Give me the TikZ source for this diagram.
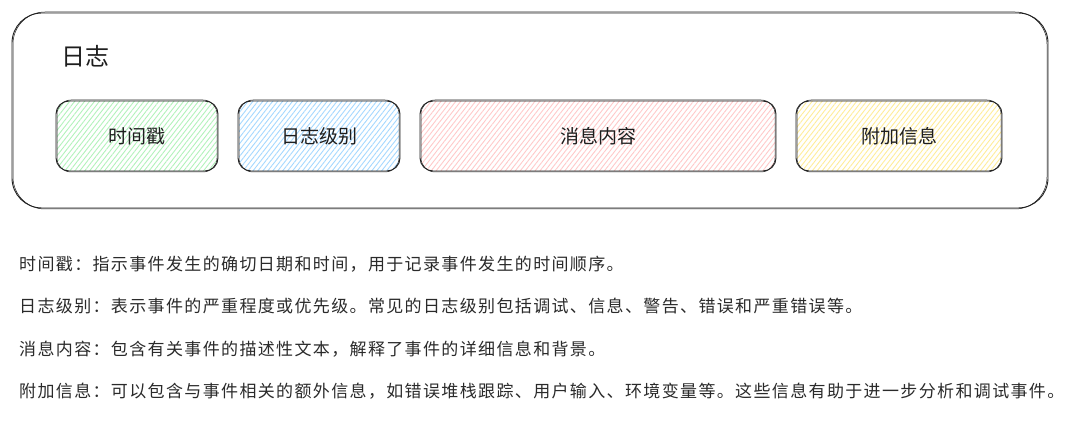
\documentclass[tikz,border=0pt]{standalone}
\usepackage{fontspec}
\setmainfont{Noto Sans CJK SC}
\newfontfamily\cjk{Noto Sans CJK SC}
\newfontfamily\cjkbody[LetterSpace=8]{Noto Sans CJK SC}
\usetikzlibrary{patterns.meta}
\definecolor{ink}{HTML}{1E1E1E}
\definecolor{txt}{HTML}{2A2A2A}
\definecolor{hgreen}{HTML}{B2F2BB}
\definecolor{hblue}{HTML}{A5D8FF}
\definecolor{hred}{HTML}{FFC9C9}
\definecolor{hyellow}{HTML}{FFEC99}
\tikzset{
  sketch/.style={draw=ink, line width=0.9pt, rounded corners=#1},
  sketch2/.style={draw=ink, line width=0.5pt, rounded corners=#1},
  hatch/.style={pattern={Lines[angle=52,distance=3.9pt,line width=0.9pt]}, pattern color=#1},
  boxlabel/.style={font=\cjk\fontsize{19}{22}\selectfont, text=ink},
  bodyline/.style={anchor=west, font=\cjkbody\fontsize{17}{20}\selectfont, text=txt, inner sep=0pt}
}
\begin{document}
\begin{tikzpicture}[x=1pt,y=-1pt]
\useasboundingbox (0,0) rectangle (1080,425);
% outer container
\draw[sketch=30] (12,13) rectangle (1048,208);
\draw[sketch2=32] (13,12) rectangle (1047,209);
\node[anchor=west, font=\cjk\fontsize{24}{28}\selectfont, text=ink, inner sep=0pt] (title) at (61,56) {日志};
% boxes
\path[hatch=hgreen, rounded corners=13] (57,101) rectangle (217,171);
\draw[sketch=13] (56,101) rectangle (218,171);
\draw[sketch2=14] (57,100) rectangle (217,172);
\node[boxlabel] (ts) at (137,136) {时间戳};

\path[hatch=hblue, rounded corners=13] (239,101) rectangle (399,171);
\draw[sketch=13] (238,101) rectangle (400,171);
\draw[sketch2=14] (239,100) rectangle (399,172);
\node[boxlabel] (lvl) at (319,136) {日志级别};

\path[hatch=hred, rounded corners=13] (421,101) rectangle (775,171);
\draw[sketch=13] (420,101) rectangle (776,171);
\draw[sketch2=14] (421,100) rectangle (775,172);
\node[boxlabel] (msg) at (598,136) {消息内容};

\path[hatch=hyellow, rounded corners=13] (797,101) rectangle (1001,171);
\draw[sketch=13] (796,101) rectangle (1002,171);
\draw[sketch2=14] (797,100) rectangle (1001,172);
\node[boxlabel] (add) at (899,136) {附加信息};

% descriptions
\node[bodyline] (d1) at (19,264) {时间戳：指示事件发生的确切日期和时间，用于记录事件发生的时间顺序。};
\node[bodyline] (d2) at (19,306) {日志级别：表示事件的严重程度或优先级。常见的日志级别包括调试、信息、警告、错误和严重错误等。};
\node[bodyline] (d3) at (19,349) {消息内容：包含有关事件的描述性文本，解释了事件的详细信息和背景。};
\node[bodyline] (d4) at (19,391) {附加信息：可以包含与事件相关的额外信息，如错误堆栈跟踪、用户输入、环境变量等。这些信息有助于进一步分析和调试事件。};
\end{tikzpicture}
\end{document}
